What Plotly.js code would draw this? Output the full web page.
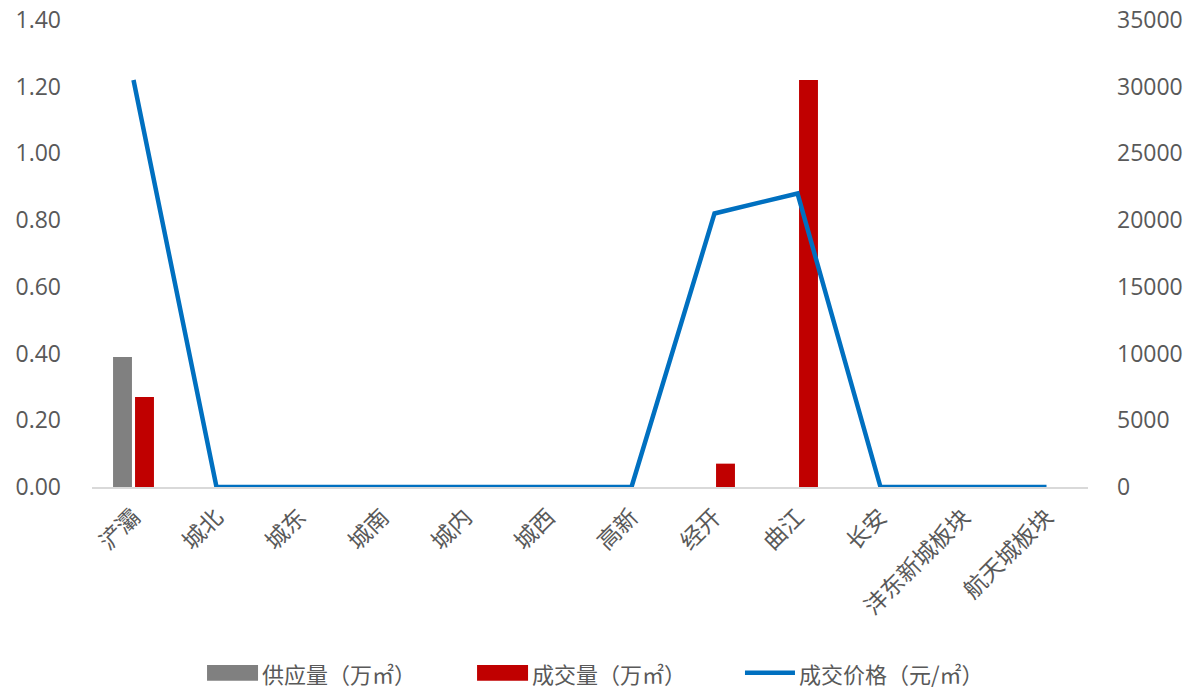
<!DOCTYPE html>
<html>
<head>
<meta charset="utf-8">
<script src="https://cdn.plot.ly/plotly-3.0.1.min.js"></script>
<style>
  html, body { margin: 0; padding: 0; background: #ffffff; }
  #chart { width: 1186px; height: 688px; }
</style>
</head>
<body>
<div id="chart"></div>
<script>
// 各板块供应、成交面积及成交均价
const districts = ['浐灞', '城北', '城东', '城南', '城内', '城西', '高新', '经开', '曲江', '长安', '沣东新城板块', '航天城板块'];
const supplyArea = [0.39, 0, 0, 0, 0, 0, 0, 0, 0, 0, 0, 0];        // 供应量（万㎡）
const dealArea = [0.27, 0, 0, 0, 0, 0, 0, 0.07, 1.22, 0, 0, 0];     // 成交量（万㎡）
const dealPrice = [30500, 0, 0, 0, 0, 0, 0, 20500, 22000, 0, 0, 0]; // 成交价格（元/㎡）

const seriesNames = ['供应量（万㎡）', '成交量（万㎡）', '成交价格（元/㎡）'];
const leftTicks = [0, 0.2, 0.4, 0.6, 0.8, 1.0, 1.2, 1.4];
const rightTicks = [0, 5000, 10000, 15000, 20000, 25000, 30000, 35000];

const GRAY = '#808080';
const RED = '#C00000';
const BLUE = '#0070C0';
const TEXT = '#595959';
const FONT = '"Open Sans", "Noto Sans CJK SC", sans-serif';
const CJK_FONT = '"Noto Sans CJK SC", sans-serif';

const traces = [
  {
    type: 'bar', name: seriesNames[0], x: districts, y: supplyArea,
    marker: { color: GRAY }, yaxis: 'y', showlegend: false, hoverinfo: 'x+y'
  },
  {
    type: 'bar', name: seriesNames[1], x: districts, y: dealArea,
    marker: { color: RED }, yaxis: 'y', showlegend: false, hoverinfo: 'x+y'
  },
  {
    type: 'scatter', mode: 'lines', name: seriesNames[2], x: districts, y: dealPrice,
    line: { color: BLUE, width: 4.5 }, yaxis: 'y2', showlegend: false, hoverinfo: 'x+y'
  }
];

// 图例：自绘色块与文字
const legendY = -0.398;
const legendItems = [
  { kind: 'rect', color: GRAY, x0: 0.1155, x1: 0.1667, tx: 0.1697, text: seriesNames[0] },
  { kind: 'rect', color: RED, x0: 0.3866, x1: 0.4378, tx: 0.4408, text: seriesNames[1] },
  { kind: 'line', color: BLUE, x0: 0.6556, x1: 0.7058, tx: 0.7088, text: seriesNames[2] }
];
const shapes = [];
const annotations = [];
legendItems.forEach(it => {
  if (it.kind === 'rect') {
    shapes.push({
      type: 'rect', xref: 'paper', yref: 'paper',
      x0: it.x0, x1: it.x1, y0: legendY - 0.0171, y1: legendY + 0.0171,
      fillcolor: it.color, line: { width: 0 }
    });
  } else {
    shapes.push({
      type: 'line', xref: 'paper', yref: 'paper',
      x0: it.x0, x1: it.x1, y0: legendY, y1: legendY,
      line: { color: it.color, width: 4.5 }
    });
  }
  annotations.push({
    xref: 'paper', yref: 'paper', x: it.tx, y: legendY,
    xanchor: 'left', yanchor: 'middle', showarrow: false, borderpad: 0,
    text: it.text, font: { family: CJK_FONT, size: 22, color: TEXT }
  });
});

const layout = {
  width: 1186, height: 688,
  margin: { l: 92, r: 98, t: 20, b: 201, pad: 0 },
  paper_bgcolor: '#ffffff', plot_bgcolor: '#ffffff',
  font: { family: FONT, size: 20, color: TEXT },
  barmode: 'group', bargap: 0.47, bargroupgap: 0.14,
  showlegend: false,
  xaxis: {
    type: 'category', tickangle: -45, showgrid: false, zeroline: false,
    showline: true, linecolor: '#d9d9d9', linewidth: 1.5,
    ticks: '', tickfont: { family: CJK_FONT, size: 23, color: TEXT },
    ticklabelstandoff: 6
  },
  yaxis: {
    range: [0, 1.4], tickvals: leftTicks, tickformat: '.2f',
    showgrid: false, zeroline: false, showline: false, ticks: '',
    tickfont: { family: FONT, size: 23, color: TEXT },
    ticklabelstandoff: 30
  },
  yaxis2: {
    range: [0, 35000], tickvals: rightTicks, tickformat: 'd',
    overlaying: 'y', side: 'right',
    showgrid: false, zeroline: false, showline: false, ticks: '',
    tickfont: { family: FONT, size: 23, color: TEXT },
    ticklabelstandoff: 28
  },
  shapes: shapes,
  annotations: annotations
};

Plotly.newPlot('chart', traces, layout, { displayModeBar: false, staticPlot: true });
</script>
</body>
</html>
